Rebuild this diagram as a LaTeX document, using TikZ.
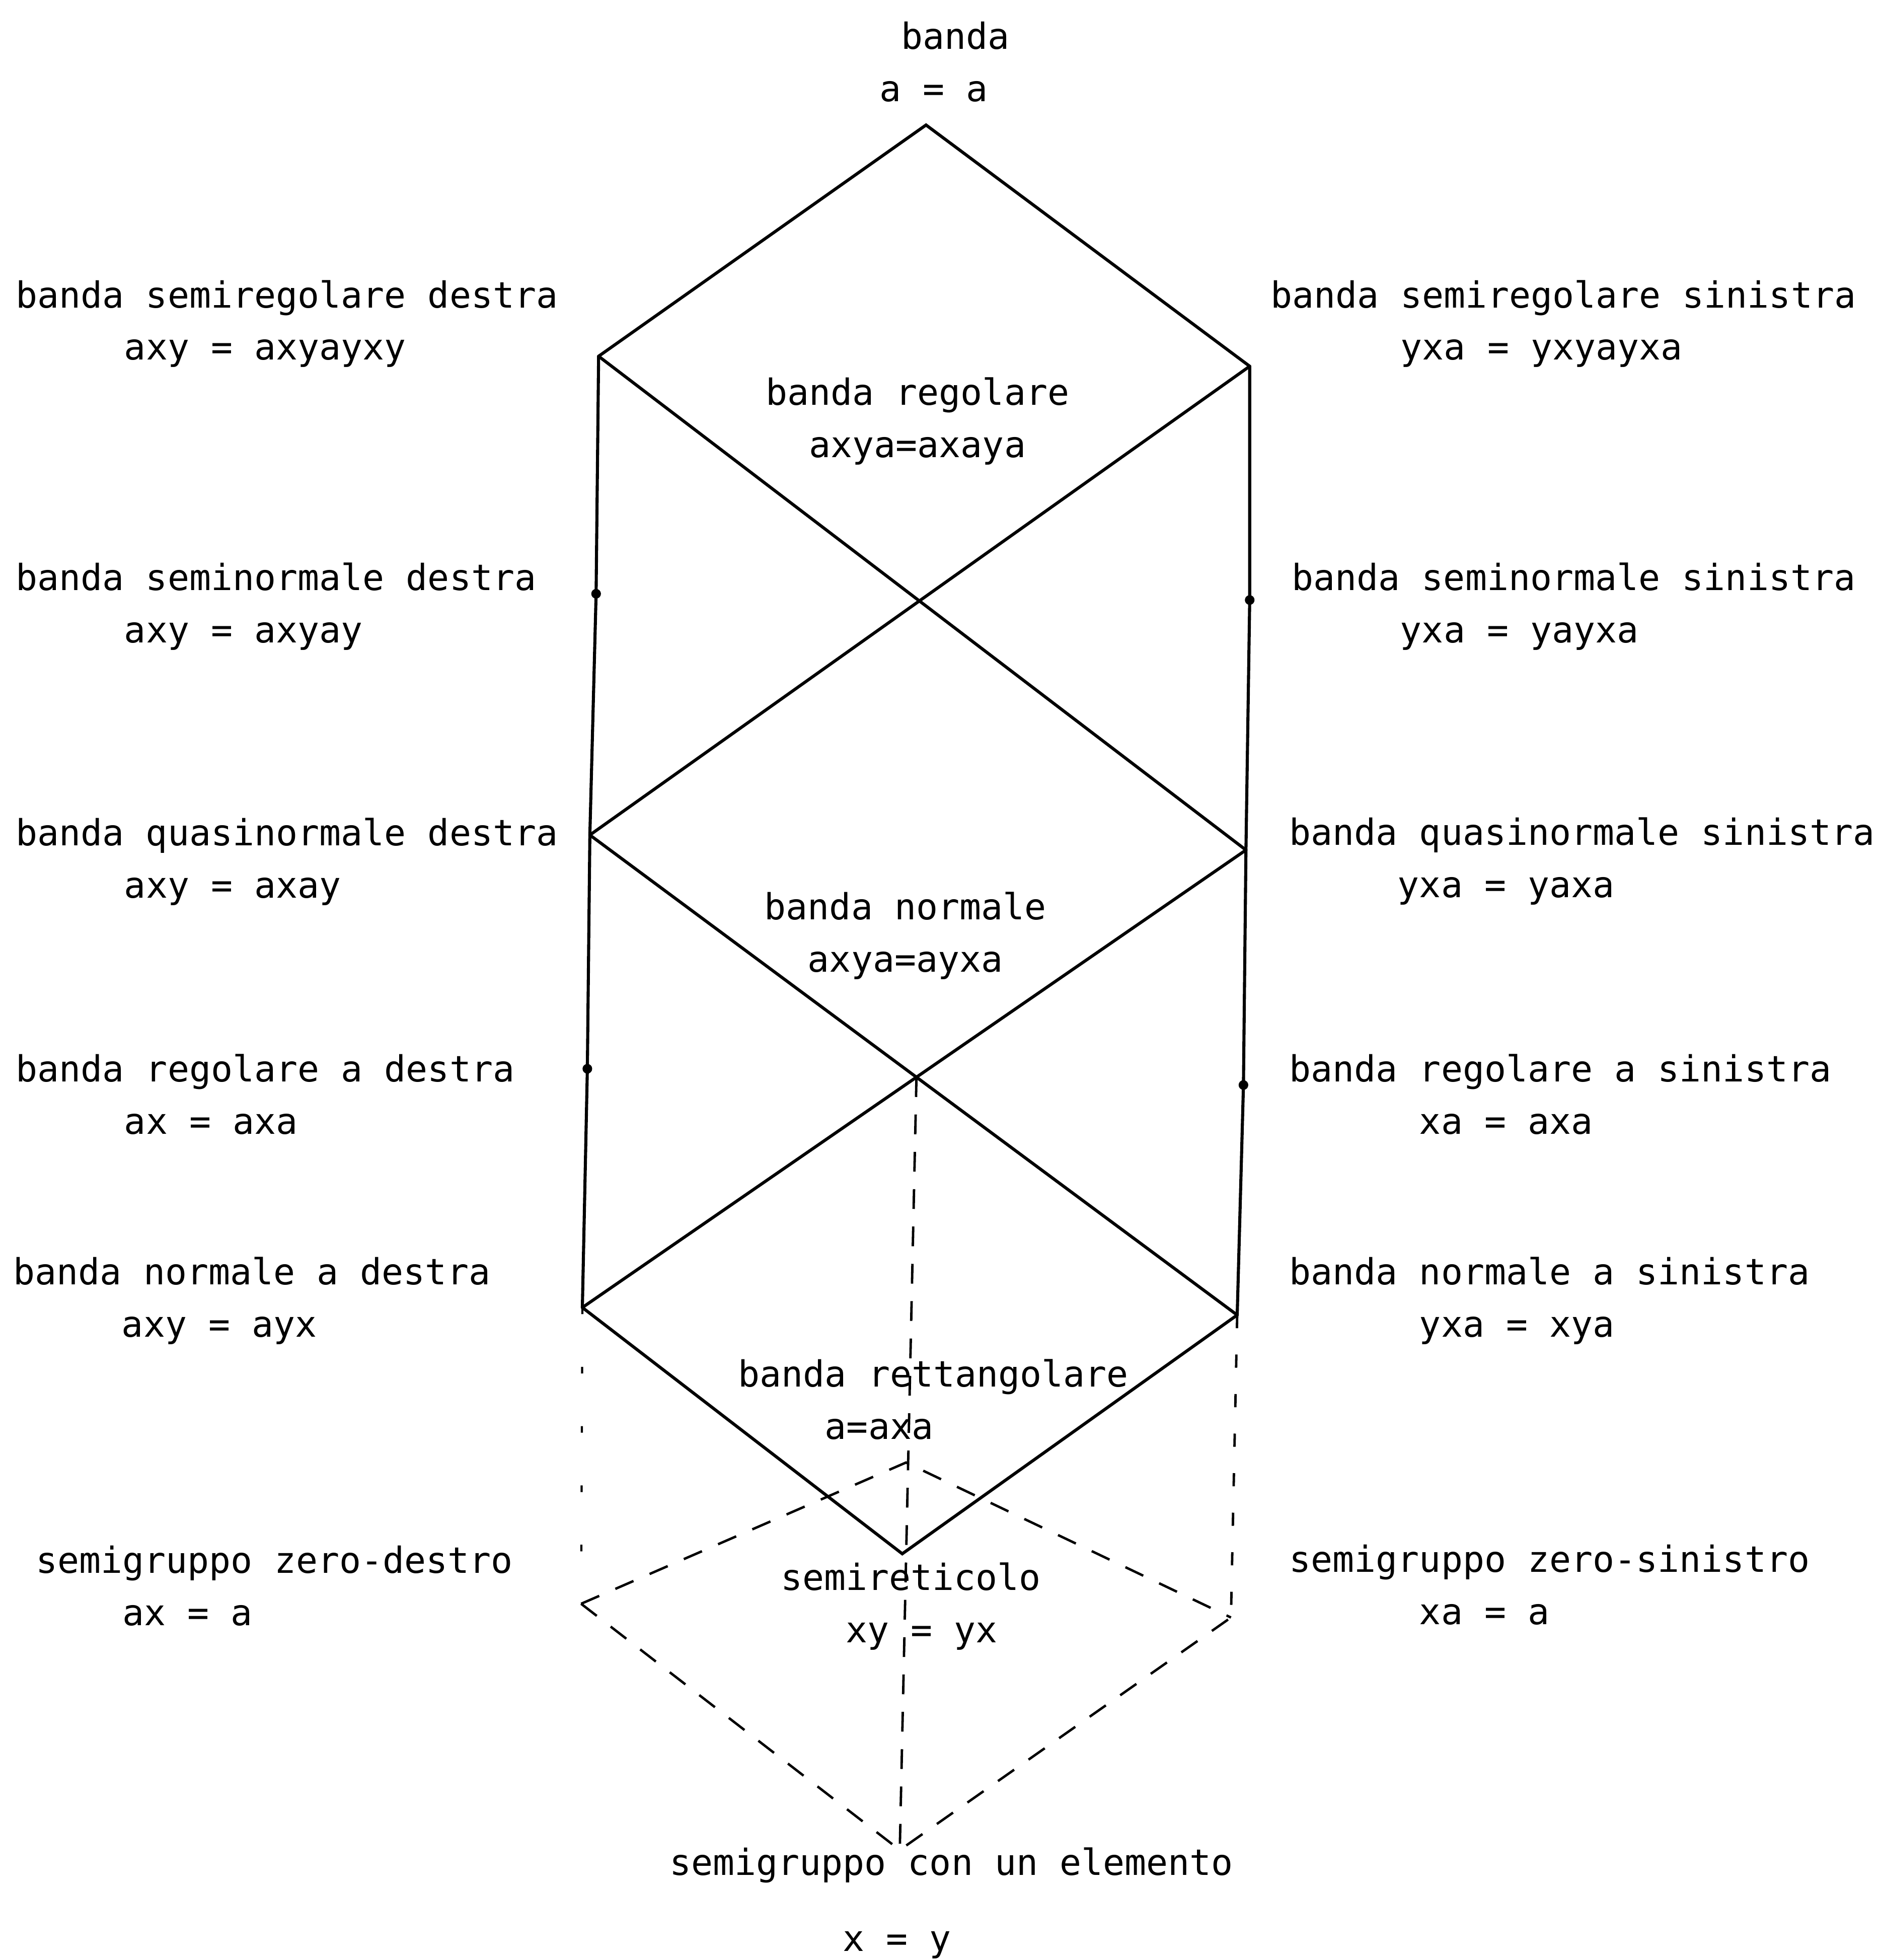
\documentclass[tikz,border=0pt]{standalone}
\usepackage{fontspec}
\setmainfont{DejaVu Sans Mono}
\usepackage{tikz}
\newcommand{\bandIndent}[1]{\hspace*{#1\fontcharwd\font`\x}}
\tikzset{
  bandLabel/.style={
    anchor=west,
    inner sep=0pt,
    align=left,
    font=\fontsize{8.2}{11.9}\selectfont
  },
  bandEdge/.style={
    line width=0.7pt,
    line cap=round
  },
  bandHidden/.style={
    line width=0.55pt,
    dash pattern=on 4.5pt off 4pt
  },
  bandSparse/.style={
    line width=0.5pt,
    dash pattern=on 1.5pt off 12pt
  },
  bandDot/.style={
    fill=black
  }
}

\begin{document}
\begin{tikzpicture}[x=0.1mm, y=-0.1mm]
  \useasboundingbox (0,0) rectangle (1505,1568);

  % lattice points
  \coordinate (top) at (741,100);
  \coordinate (srd) at (479,285);
  \coordinate (srs) at (1000,293);
  \coordinate (snd) at (477,475);
  \coordinate (sns) at (1000,480);
  \coordinate (qnd) at (472,668);
  \coordinate (qns) at (997,680);
  \coordinate (rd) at (470,855);
  \coordinate (rs) at (995,868);
  \coordinate (nd) at (466,1046);
  \coordinate (ns) at (990,1052);
  \coordinate (rect) at (725,1170);
  \coordinate (slat) at (722,1243);
  \coordinate (lz) at (465,1283);
  \coordinate (rz) at (985,1294);
  \coordinate (triv) at (720,1480);
  \coordinate (nrm) at (intersection of qnd--ns and qns--nd);

  % solid edges
  \draw[bandEdge] (srd) -- (top) -- (srs);
  \draw[bandEdge] (srd) -- (snd) -- (qnd) -- (rd) -- (nd);
  \draw[bandEdge] (srs) -- (sns) -- (qns) -- (rs) -- (ns);
  \draw[bandEdge] (srd) -- (qns);
  \draw[bandEdge] (srs) -- (qnd);
  \draw[bandEdge] (qnd) -- (ns);
  \draw[bandEdge] (qns) -- (nd);
  \draw[bandEdge] (nd) -- (slat) -- (ns);

  % dashed edges
  \draw[bandHidden] (nrm) -- (triv);
  \draw[bandHidden] (lz) -- (rect) -- (rz);
  \draw[bandHidden] (lz) -- (triv) -- (rz);
  \draw[bandSparse] (nd) -- (lz);
  \draw[bandHidden, dash pattern=on 3pt off 6pt] (ns) -- (rz);

  \foreach \p in {snd,sns,rd,rs}
    \fill[bandDot] (\p) circle (1.1pt);

  % labels
  \node[bandLabel] (lblTop) at (703,49.5)
    {\bandIndent{1}banda\\a = a};
  \node[bandLabel] (lblSRD) at (12,259)
    {banda semiregolare destra\\\bandIndent{5}axy = axyayxy};
  \node[bandLabel] (lblSND) at (12,485)
    {banda seminormale destra\\\bandIndent{5}axy = axyay};
  \node[bandLabel] (lblQND) at (12,689.5)
    {banda quasinormale destra\\\bandIndent{5}axy = axay};
  \node[bandLabel] (lblRD) at (12,875.5)
    {banda regolare a destra\\\bandIndent{5}ax = axa};
  \node[bandLabel] (lblND) at (10,1040.5)
    {banda normale a destra\\\bandIndent{5}axy = ayx};
  \node[bandLabel] (lblLZ) at (28,1268.5)
    {semigruppo zero-destro\\\bandIndent{4}ax = a};

  \node[bandLabel] (lblSRS) at (1016,259)
    {banda semiregolare sinistra\\\bandIndent{6}yxa = yxyayxa};
  \node[bandLabel] (lblSNS) at (1033,485)
    {banda seminormale sinistra\\\bandIndent{5}yxa = yayxa};
  \node[bandLabel] (lblQNS) at (1031,689)
    {banda quasinormale sinistra\\\bandIndent{5}yxa = yaxa};
  \node[bandLabel] (lblRS) at (1031,875.5)
    {banda regolare a sinistra\\\bandIndent{6}xa = axa};
  \node[bandLabel] (lblNS) at (1031,1040.5)
    {banda normale a sinistra\\\bandIndent{6}yxa = xya};
  \node[bandLabel] (lblRZ) at (1031,1268)
    {semigruppo zero-sinistro\\\bandIndent{6}xa = a};

  \node[bandLabel] (lblReg) at (612,337)
    {banda regolare\\\bandIndent{2}axya=axaya};
  \node[bandLabel] (lblNrm) at (611,748.5)
    {banda normale\\\bandIndent{2}axya=ayxa};
  \node[bandLabel] (lblRect) at (590,1119.5)
    {banda rettangolare\\\bandIndent{4}a=axa};
  \node[bandLabel] (lblSlat) at (624,1285)
    {semireticolo\\\bandIndent{3}xy = yx};
  \node[bandLabel] (lblTriv) at (535,1522.5)
    {semigruppo con un elemento\\[0.19cm]\bandIndent{8}x = y};
\end{tikzpicture}
\end{document}
